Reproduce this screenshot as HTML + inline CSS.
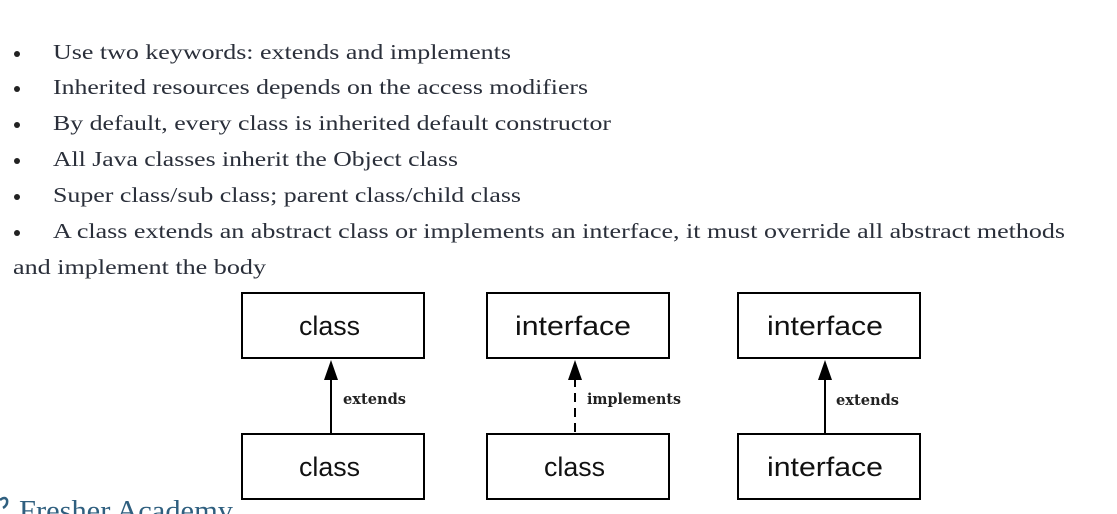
<!DOCTYPE html>
<html><head><meta charset="utf-8"><style>
html,body{margin:0;padding:0;background:#fff;width:1117px;height:514px;overflow:hidden}
</style></head><body>
<svg width="1117" height="514" viewBox="0 0 1117 514" xmlns="http://www.w3.org/2000/svg">
<g fill="#222"><circle cx="17" cy="54" r="3"/><circle cx="17" cy="89" r="3"/><circle cx="17" cy="125" r="3"/><circle cx="17" cy="161" r="3"/><circle cx="17" cy="197" r="3"/><circle cx="17" cy="233" r="3"/></g>
<g font-family="Liberation Serif, serif" font-size="21" fill="#2a2f3a">
<text x="53" y="59" textLength="458" lengthAdjust="spacingAndGlyphs">Use two keywords: extends and implements</text>
<text x="53" y="94" textLength="535" lengthAdjust="spacingAndGlyphs">Inherited resources depends on the access modifiers</text>
<text x="53" y="130" textLength="558" lengthAdjust="spacingAndGlyphs">By default, every class is inherited default constructor</text>
<text x="53" y="166" textLength="405" lengthAdjust="spacingAndGlyphs">All Java classes inherit the Object class</text>
<text x="53" y="202" textLength="468" lengthAdjust="spacingAndGlyphs">Super class/sub class; parent class/child class</text>
<text x="53" y="238" textLength="1012" lengthAdjust="spacingAndGlyphs">A class extends an abstract class or implements an interface, it must override all abstract methods</text>
<text x="13" y="274" textLength="253" lengthAdjust="spacingAndGlyphs">and implement the body</text>
</g>
<path d="M0,500 Q5,496 7,500 Q8,505 3,508" fill="none" stroke="#2f5f7f" stroke-width="2.5"/>
<text x="19" y="520" font-family="Liberation Serif, serif" font-size="28" fill="#2f5f7f" textLength="214" lengthAdjust="spacingAndGlyphs">Fresher Academy</text>

<g fill="none" stroke="#000" stroke-width="2">
<rect x="242" y="293" width="182" height="65"/>
<rect x="242" y="434" width="182" height="65"/>
<rect x="487" y="293" width="182" height="65"/>
<rect x="487" y="434" width="182" height="65"/>
<rect x="738" y="293" width="182" height="65"/>
<rect x="738" y="434" width="182" height="65"/>
<line x1="331" y1="378" x2="331" y2="434"/>
<line x1="575" y1="378" x2="575" y2="434" stroke-dasharray="9,6"/>
<line x1="825" y1="378" x2="825" y2="434"/>
</g>
<g fill="#000">
<polygon points="331,360 324,380 338,380"/>
<polygon points="575,360 568,380 582,380"/>
<polygon points="825,360 818,380 832,380"/>
</g>
<g font-family="Liberation Sans, DejaVu Sans, sans-serif" font-size="27" fill="#111">
<text x="299" y="335" textLength="61" lengthAdjust="spacingAndGlyphs">class</text>
<text x="299" y="476" textLength="61" lengthAdjust="spacingAndGlyphs">class</text>
<text x="515" y="335" textLength="116" lengthAdjust="spacingAndGlyphs">interface</text>
<text x="544" y="476" textLength="61" lengthAdjust="spacingAndGlyphs">class</text>
<text x="767" y="335" textLength="116" lengthAdjust="spacingAndGlyphs">interface</text>
<text x="767" y="476" textLength="116" lengthAdjust="spacingAndGlyphs">interface</text>
</g>
<g font-family="DejaVu Serif, Liberation Serif, serif" font-size="15" font-weight="bold" fill="#222">
<text x="343" y="404" textLength="63" lengthAdjust="spacingAndGlyphs">extends</text>
<text x="587" y="404" textLength="94" lengthAdjust="spacingAndGlyphs">implements</text>
<text x="836" y="405" textLength="63" lengthAdjust="spacingAndGlyphs">extends</text>
</g>
</svg>
</body></html>
